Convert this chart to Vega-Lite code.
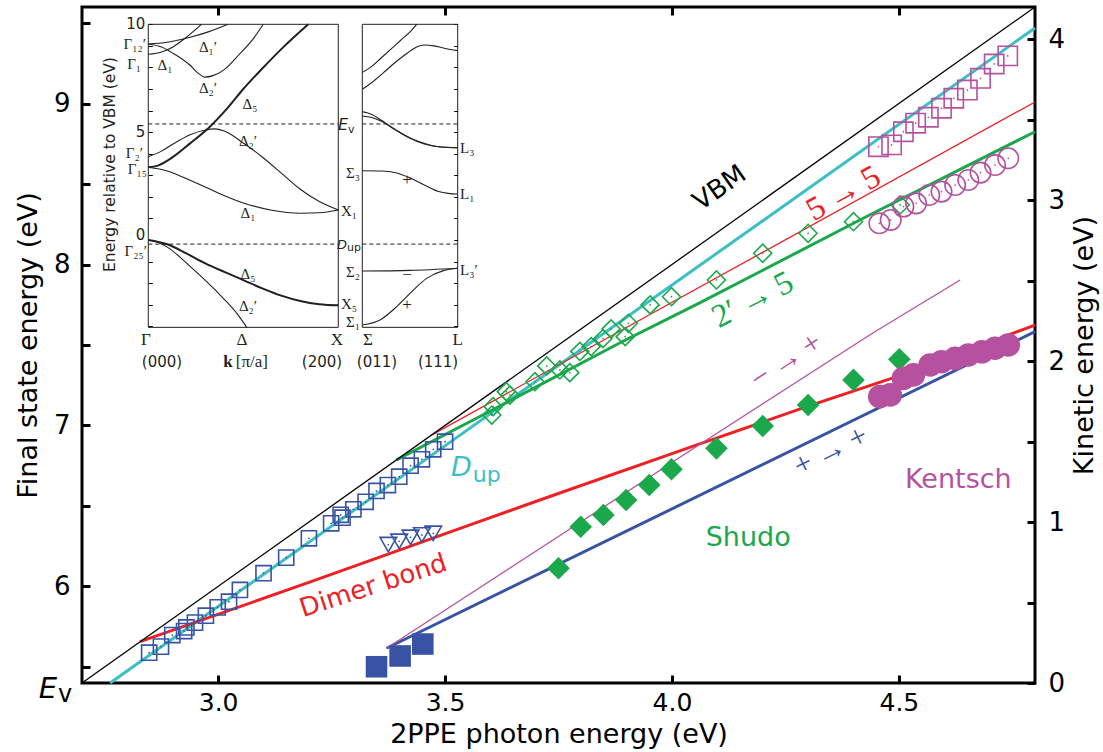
{
"$schema": "https://vega.github.io/schema/vega-lite/v6.json",
"width": 953, "height": 676,
"autosize": {"type": "none"},
"padding": {"left": 82, "top": 7, "right": 68, "bottom": 69},
"background": "white",
"config": {
  "view": {"stroke": "black", "strokeWidth": 3},
  "axis": {"grid": false, "labelColor": "black", "titleColor": "black", "tickColor": "black", "labelFont": "DejaVu Sans", "titleFont": "DejaVu Sans", "titleFontWeight": "normal"}
},
"datasets": {
  "lines": [
    {"s":"Dup","hv":2.762,"E":5.40},{"s":"Dup","hv":4.80,"E":9.47},
    {"s":"r55","hv":3.47,"E":6.94},{"s":"r55","hv":4.80,"E":9.01},
    {"s":"g25","hv":3.393,"E":6.786},{"s":"g25","hv":3.60,"E":7.09},{"s":"g25","hv":3.89,"E":7.52},{"s":"g25","hv":4.06,"E":7.76},{"s":"g25","hv":4.43,"E":8.30},{"s":"g25","hv":4.80,"E":8.825},
    {"s":"dimer","hv":2.828,"E":5.657},{"s":"dimer","hv":3.20,"E":6.025},{"s":"dimer","hv":3.555,"E":6.382},{"s":"dimer","hv":3.709,"E":6.537},{"s":"dimer","hv":4.055,"E":6.879},{"s":"dimer","hv":4.297,"E":7.117},{"s":"dimer","hv":4.517,"E":7.324},{"s":"dimer","hv":4.723,"E":7.542},{"s":"dimer","hv":4.80,"E":7.624},
    {"s":"pp","hv":3.371,"E":5.616},{"s":"pp","hv":4.80,"E":7.583},
    {"s":"mp","hv":3.371,"E":5.616},{"s":"mp","hv":3.71,"E":6.237},{"s":"mp","hv":4.06,"E":6.88},{"s":"mp","hv":4.44,"E":7.57},{"s":"mp","hv":4.635,"E":7.904}
  ],
  "pts": [
    {"s":"sqb","hv":2.848,"E":5.588},{"s":"sqb","hv":2.874,"E":5.626},{"s":"sqb","hv":2.899,"E":5.698},{"s":"sqb","hv":2.925,"E":5.723},{"s":"sqb","hv":2.930,"E":5.745},{"s":"sqb","hv":2.949,"E":5.775},{"s":"sqb","hv":2.973,"E":5.818},{"s":"sqb","hv":2.999,"E":5.870},{"s":"sqb","hv":3.024,"E":5.905},{"s":"sqb","hv":3.048,"E":5.978},{"s":"sqb","hv":3.100,"E":6.082},{"s":"sqb","hv":3.150,"E":6.179},{"s":"sqb","hv":3.200,"E":6.299},{"s":"sqb","hv":3.249,"E":6.392},{"s":"sqb","hv":3.270,"E":6.445},{"s":"sqb","hv":3.274,"E":6.427},{"s":"sqb","hv":3.298,"E":6.479},{"s":"sqb","hv":3.325,"E":6.526},{"s":"sqb","hv":3.349,"E":6.593},{"s":"sqb","hv":3.374,"E":6.630},{"s":"sqb","hv":3.399,"E":6.682},{"s":"sqb","hv":3.424,"E":6.750},{"s":"sqb","hv":3.449,"E":6.790},{"s":"sqb","hv":3.474,"E":6.852},{"s":"sqb","hv":3.500,"E":6.899},
    {"s":"tri","hv":3.375,"E":6.26},{"s":"tri","hv":3.399,"E":6.28},{"s":"tri","hv":3.424,"E":6.305},{"s":"tri","hv":3.449,"E":6.32},{"s":"tri","hv":3.474,"E":6.33},
    {"s":"diao","hv":3.603,"E":7.065},{"s":"diao","hv":3.606,"E":7.117},{"s":"diao","hv":3.635,"E":7.21},{"s":"diao","hv":3.643,"E":7.189},{"s":"diao","hv":3.698,"E":7.272},{"s":"diao","hv":3.724,"E":7.37},{"s":"diao","hv":3.753,"E":7.345},{"s":"diao","hv":3.775,"E":7.328},{"s":"diao","hv":3.797,"E":7.46},{"s":"diao","hv":3.822,"E":7.49},{"s":"diao","hv":3.848,"E":7.54},{"s":"diao","hv":3.866,"E":7.60},{"s":"diao","hv":3.897,"E":7.552},{"s":"diao","hv":3.904,"E":7.635},{"s":"diao","hv":3.952,"E":7.749},{"s":"diao","hv":3.999,"E":7.80},{"s":"diao","hv":4.098,"E":7.904},{"s":"diao","hv":4.200,"E":8.07},{"s":"diao","hv":4.300,"E":8.194},{"s":"diao","hv":4.400,"E":8.266},{"s":"diao","hv":4.503,"E":8.37},
    {"s":"sqp","hv":4.455,"E":8.732},{"s":"sqp","hv":4.484,"E":8.743},{"s":"sqp","hv":4.510,"E":8.825},{"s":"sqp","hv":4.537,"E":8.878},{"s":"sqp","hv":4.565,"E":8.915},{"s":"sqp","hv":4.594,"E":8.971},{"s":"sqp","hv":4.621,"E":9.033},{"s":"sqp","hv":4.651,"E":9.084},{"s":"sqp","hv":4.680,"E":9.157},{"s":"sqp","hv":4.710,"E":9.246},{"s":"sqp","hv":4.740,"E":9.296},
    {"s":"circp","hv":4.457,"E":8.256},{"s":"circp","hv":4.482,"E":8.277},{"s":"circp","hv":4.510,"E":8.360},{"s":"circp","hv":4.538,"E":8.380},{"s":"circp","hv":4.567,"E":8.432},{"s":"circp","hv":4.594,"E":8.453},{"s":"circp","hv":4.624,"E":8.494},{"s":"circp","hv":4.653,"E":8.525},{"s":"circp","hv":4.680,"E":8.571},{"s":"circp","hv":4.712,"E":8.618},{"s":"circp","hv":4.741,"E":8.660},
    {"s":"sqf","hv":3.349,"E":5.501},{"s":"sqf","hv":3.401,"E":5.568},{"s":"sqf","hv":3.451,"E":5.642},
    {"s":"diaf","hv":3.750,"E":6.113},{"s":"diaf","hv":3.799,"E":6.371},{"s":"diaf","hv":3.849,"E":6.444},{"s":"diaf","hv":3.899,"E":6.537},{"s":"diaf","hv":3.950,"E":6.630},{"s":"diaf","hv":3.999,"E":6.728},{"s":"diaf","hv":4.098,"E":6.858},{"s":"diaf","hv":4.200,"E":6.997},{"s":"diaf","hv":4.300,"E":7.127},{"s":"diaf","hv":4.400,"E":7.283},{"s":"diaf","hv":4.501,"E":7.411},
    {"s":"circf","hv":4.458,"E":7.179},{"s":"circf","hv":4.481,"E":7.190},{"s":"circf","hv":4.510,"E":7.293},{"s":"circf","hv":4.532,"E":7.314},{"s":"circf","hv":4.569,"E":7.376},{"s":"circf","hv":4.594,"E":7.396},{"s":"circf","hv":4.624,"E":7.417},{"s":"circf","hv":4.653,"E":7.438},{"s":"circf","hv":4.683,"E":7.458},{"s":"circf","hv":4.712,"E":7.480},{"s":"circf","hv":4.741,"E":7.500}
  ],
  "notes": [
    {"id":"vbm","hv":4.105,"E":8.475,"t":"VBM"},
    {"id":"r55","hv":4.378,"E":8.441,"t":"5\u2009→\u20095"},
    {"id":"g25","hv":4.178,"E":7.78,"t":"2′\u2009→\u20095"},
    {"id":"dimer","hv":3.342,"E":6.003,"t":"Dimer bond"},
    {"id":"mp","hv":4.252,"E":7.40,"t":"−\u2009→\u2009+"},
    {"id":"pp","hv":4.35,"E":6.838,"t":"+\u2009→\u2009+"},
    {"id":"shudo","hv":4.168,"E":6.301,"t":"Shudo"},
    {"id":"kentsch","hv":4.631,"E":6.661,"t":"Kentsch"},
    {"id":"D","hv":3.559,"E":6.686,"t":"D"},
    {"id":"up","hv":3.559,"E":6.686,"t":"up"},
    {"id":"E","hv":2.645,"E":5.307,"t":"E"},
    {"id":"v","hv":2.645,"E":5.307,"t":"v"}
  ],
  "bands": [
    {"p":"L","c":"vb5","k":0,"E":0},{"p":"L","c":"vb5","k":0.1,"E":-0.2},{"p":"L","c":"vb5","k":0.2,"E":-0.62},{"p":"L","c":"vb5","k":0.3,"E":-1.08},{"p":"L","c":"vb5","k":0.4,"E":-1.48},{"p":"L","c":"vb5","k":0.5,"E":-1.86},{"p":"L","c":"vb5","k":0.6,"E":-2.24},{"p":"L","c":"vb5","k":0.7,"E":-2.58},{"p":"L","c":"vb5","k":0.8,"E":-2.83},{"p":"L","c":"vb5","k":0.9,"E":-2.98},{"p":"L","c":"vb5","k":1.0,"E":-3.03},
    {"p":"L","c":"vb2","k":0,"E":0},{"p":"L","c":"vb2","k":0.05,"E":-0.1},{"p":"L","c":"vb2","k":0.1,"E":-0.33},{"p":"L","c":"vb2","k":0.22,"E":-1.22},{"p":"L","c":"vb2","k":0.31,"E":-1.95},{"p":"L","c":"vb2","k":0.4,"E":-2.75},{"p":"L","c":"vb2","k":0.47,"E":-3.45},{"p":"L","c":"vb2","k":0.518,"E":-4.05},
    {"p":"L","c":"cb1","k":0,"E":3.37},{"p":"L","c":"cb1","k":0.1,"E":3.2},{"p":"L","c":"cb1","k":0.22,"E":2.77},{"p":"L","c":"cb1","k":0.35,"E":2.25},{"p":"L","c":"cb1","k":0.5,"E":1.72},{"p":"L","c":"cb1","k":0.65,"E":1.38},{"p":"L","c":"cb1","k":0.8,"E":1.24},{"p":"L","c":"cb1","k":0.9,"E":1.26},{"p":"L","c":"cb1","k":1.0,"E":1.39},
    {"p":"L","c":"cb5","k":0,"E":3.37},{"p":"L","c":"cb5","k":0.05,"E":3.45},{"p":"L","c":"cb5","k":0.13,"E":3.85},{"p":"L","c":"cb5","k":0.22,"E":4.48},{"p":"L","c":"cb5","k":0.32,"E":5.22},{"p":"L","c":"cb5","k":0.42,"E":6.15},{"p":"L","c":"cb5","k":0.5,"E":7.0},{"p":"L","c":"cb5","k":0.6,"E":7.95},{"p":"L","c":"cb5","k":0.7,"E":8.85},{"p":"L","c":"cb5","k":0.842,"E":10.0},
    {"p":"L","c":"cb2","k":0,"E":3.86},{"p":"L","c":"cb2","k":0.07,"E":4.12},{"p":"L","c":"cb2","k":0.13,"E":4.45},{"p":"L","c":"cb2","k":0.22,"E":4.88},{"p":"L","c":"cb2","k":0.3,"E":5.1},{"p":"L","c":"cb2","k":0.35,"E":5.15},{"p":"L","c":"cb2","k":0.4,"E":5.05},{"p":"L","c":"cb2","k":0.5,"E":4.5},{"p":"L","c":"cb2","k":0.6,"E":3.85},{"p":"L","c":"cb2","k":0.7,"E":3.1},{"p":"L","c":"cb2","k":0.8,"E":2.35},{"p":"L","c":"cb2","k":0.9,"E":1.78},{"p":"L","c":"cb2","k":1.0,"E":1.39},
    {"p":"L","c":"c12a","k":0,"E":9.09},{"p":"L","c":"c12a","k":0.1,"E":9.17},{"p":"L","c":"c12a","k":0.22,"E":9.4},{"p":"L","c":"c12a","k":0.32,"E":9.66},{"p":"L","c":"c12a","k":0.42,"E":10.0},
    {"p":"L","c":"c12b","k":0,"E":9.09},{"p":"L","c":"c12b","k":0.07,"E":8.95},{"p":"L","c":"c12b","k":0.13,"E":8.66},{"p":"L","c":"c12b","k":0.22,"E":8.1},{"p":"L","c":"c12b","k":0.26,"E":7.75},{"p":"L","c":"c12b","k":0.3,"E":7.55},{"p":"L","c":"c12b","k":0.34,"E":7.62},{"p":"L","c":"c12b","k":0.4,"E":7.9},{"p":"L","c":"c12b","k":0.48,"E":8.62},{"p":"L","c":"c12b","k":0.55,"E":9.3},{"p":"L","c":"c12b","k":0.605,"E":10.0},
    {"p":"L","c":"c1","k":0,"E":8.61},{"p":"L","c":"c1","k":0.07,"E":8.72},{"p":"L","c":"c1","k":0.13,"E":8.95},{"p":"L","c":"c1","k":0.2,"E":9.4},{"p":"L","c":"c1","k":0.28,"E":10.0},
    {"p":"R","c":"r1","k":0,"E":7.77},{"p":"R","c":"r1","k":0.1,"E":8.05},{"p":"R","c":"r1","k":0.2,"E":8.45},{"p":"R","c":"r1","k":0.3,"E":8.85},{"p":"R","c":"r1","k":0.4,"E":9.25},{"p":"R","c":"r1","k":0.5,"E":9.65},{"p":"R","c":"r1","k":0.57,"E":10.0},
    {"p":"R","c":"r2","k":0,"E":6.99},{"p":"R","c":"r2","k":0.1,"E":7.3},{"p":"R","c":"r2","k":0.22,"E":7.75},{"p":"R","c":"r2","k":0.35,"E":8.25},{"p":"R","c":"r2","k":0.47,"E":8.66},{"p":"R","c":"r2","k":0.57,"E":8.95},{"p":"R","c":"r2","k":0.65,"E":9.04},{"p":"R","c":"r2","k":0.75,"E":9.0},{"p":"R","c":"r2","k":0.87,"E":8.88},{"p":"R","c":"r2","k":1.0,"E":8.78},
    {"p":"R","c":"r3","k":0,"E":5.95},{"p":"R","c":"r3","k":0.1,"E":5.82},{"p":"R","c":"r3","k":0.2,"E":5.55},{"p":"R","c":"r3","k":0.3,"E":5.25},{"p":"R","c":"r3","k":0.45,"E":4.85},{"p":"R","c":"r3","k":0.6,"E":4.55},{"p":"R","c":"r3","k":0.75,"E":4.36},{"p":"R","c":"r3","k":0.9,"E":4.29},{"p":"R","c":"r3","k":1.0,"E":4.28},
    {"p":"R","c":"r4","k":0,"E":5.75},{"p":"R","c":"r4","k":0.1,"E":5.68},{"p":"R","c":"r4","k":0.2,"E":5.5},{"p":"R","c":"r4","k":0.35,"E":5.1},{"p":"R","c":"r4","k":0.5,"E":4.72},{"p":"R","c":"r4","k":0.65,"E":4.45},{"p":"R","c":"r4","k":0.8,"E":4.32},{"p":"R","c":"r4","k":1.0,"E":4.28},
    {"p":"R","c":"r5","k":0,"E":3.21},{"p":"R","c":"r5","k":0.2,"E":3.2},{"p":"R","c":"r5","k":0.35,"E":3.12},{"p":"R","c":"r5","k":0.5,"E":2.88},{"p":"R","c":"r5","k":0.65,"E":2.55},{"p":"R","c":"r5","k":0.8,"E":2.25},{"p":"R","c":"r5","k":0.9,"E":2.16},{"p":"R","c":"r5","k":1.0,"E":2.13},
    {"p":"R","c":"r6","k":0,"E":-1.44},{"p":"R","c":"r6","k":0.5,"E":-1.41},{"p":"R","c":"r6","k":1.0,"E":-1.31},
    {"p":"R","c":"r7","k":0,"E":-3.94},{"p":"R","c":"r7","k":0.185,"E":-3.71},{"p":"R","c":"r7","k":0.36,"E":-3.09},{"p":"R","c":"r7","k":0.5,"E":-2.47},{"p":"R","c":"r7","k":0.675,"E":-1.78},{"p":"R","c":"r7","k":0.85,"E":-1.42},{"p":"R","c":"r7","k":1.0,"E":-1.31}
  ],
  "blabels": [
    {"g":"delta","k":0.314,"E":8.95,"t":"Δ₁′"},{"g":"delta","k":0.088,"E":8.11,"t":"Δ₁"},{"g":"delta","k":0.314,"E":7.05,"t":"Δ₂′"},{"g":"delta","k":0.535,"E":6.31,"t":"Δ₅"},
    {"g":"delta","k":0.525,"E":4.59,"t":"Δ₂′"},{"g":"delta","k":0.525,"E":1.25,"t":"Δ₁"},{"g":"delta","k":0.525,"E":-1.58,"t":"Δ₅"},{"g":"delta","k":0.525,"E":-3.06,"t":"Δ₂′"},
    {"g":"gamma","k":-0.012,"E":9.09,"t":"Γ₁₂′"},{"g":"gamma","k":-0.038,"E":8.16,"t":"Γ₁"},{"g":"gamma","k":-0.028,"E":4.03,"t":"Γ₂′"},{"g":"gamma","k":-0.007,"E":3.29,"t":"Γ₁₅"},{"g":"gamma","k":-0.007,"E":-0.5,"t":"Γ₂₅′"},
    {"g":"ticklab","k":-0.016,"E":10,"t":"10"},{"g":"ticklab","k":-0.016,"E":5,"t":"5"},{"g":"ticklab","k":-0.016,"E":0.25,"t":"0"},
    {"g":"xlab","k":1.014,"E":1.34,"t":"X₁"},{"g":"xlab","k":1.014,"E":-2.97,"t":"X₅"},
    {"g":"bottom","k":-0.012,"E":-4.64,"t":"Γ"},{"g":"bottom","k":0.493,"E":-4.64,"t":"Δ"},{"g":"bottom","k":0.993,"E":-4.64,"t":"X"},{"g":"bottom","k":0.545,"E":-5.66,"t":"[π/a]"},
    {"g":"kbold","k":0.42,"E":-5.66,"t":"k"},
    {"g":"miller","k":0.072,"E":-5.66,"t":"(000)"},{"g":"miller","k":0.914,"E":-5.66,"t":"(200)"},
    {"g":"Ev","k":1.051,"E":5.10,"t":"E"},{"g":"Evsub","k":1.051,"E":5.10,"t":"v"},
    {"g":"Dup","k":1.046,"E":-0.42,"t":"D"},{"g":"Dupsub","k":1.046,"E":-0.42,"t":"up"},
    {"g":"title","k":-0.2016,"E":3.5,"t":"Energy relative to VBM (eV)"}
  ],
  "rlabels": [
    {"g":"sigma","k":-0.024,"E":3.11,"t":"Σ₃"},{"g":"sigma","k":-0.024,"E":-1.48,"t":"Σ₂"},{"g":"sigma","k":-0.024,"E":-3.8,"t":"Σ₁"},
    {"g":"llab","k":1.024,"E":4.27,"t":"L₃"},{"g":"llab","k":1.024,"E":2.13,"t":"L₁"},{"g":"llab","k":1.024,"E":-1.39,"t":"L₃′"},
    {"g":"sign","k":0.469,"E":2.78,"t":"+"},{"g":"sign","k":0.469,"E":-1.62,"t":"−"},{"g":"sign","k":0.469,"E":-3.01,"t":"+"},{"g":"sign","k":0.06,"E":-4.64,"t":"Σ"},{"g":"sign","k":1.0,"E":-4.64,"t":"L"},
    {"g":"miller","k":0.154,"E":-5.66,"t":"(011)"},{"g":"miller","k":0.794,"E":-5.66,"t":"(111)"}
  ]
},
"layer": [
  {
    "data": {"name": "lines"},
    "transform": [{"filter": {"field": "s", "oneOf": ["Dup", "g25", "dimer", "pp"]}}],
    "mark": {"type": "line", "strokeWidth": 3},
    "encoding": {
      "x": {"field": "hv", "type": "quantitative", "scale": {"domain": [2.7, 4.8], "nice": false, "zero": false},
            "axis": {"orient": "bottom", "values": [3, 3.5, 4, 4.5], "format": ".1f", "tickSize": -8, "tickWidth": 3, "domain": false, "labelFontSize": 25, "labelPadding": 15, "title": "2PPE photon energy (eV)", "titleFontSize": 27, "titlePadding": 6}},
      "y": {"field": "E", "type": "quantitative", "scale": {"domain": [5.4, 9.6], "nice": false, "zero": false},
            "axis": {"orient": "left", "values": [5.5, 6, 6.5, 7, 7.5, 8, 8.5, 9, 9.5], "labelExpr": "datum.value % 1 == 0 ? format(datum.value, 'd') : ''", "tickSize": -8, "tickWidth": 3, "domain": false, "labelFontSize": 26, "labelPadding": 20, "title": "Final state energy (eV)", "titleFontSize": 27, "titleBaseline": "alphabetic", "titlePadding": 17}},
      "color": {"field": "s", "type": "nominal", "legend": null, "scale": {"domain": ["Dup","r55","g25","dimer","pp","mp","sqb","tri","diao","sqp","circp","sqf","diaf","circf"], "range": ["#3cbfc4","#ed2024","#1aa84b","#ed2024","#3953a4","#b5519f","#3953a4","#3953a4","#1aa84b","#b5519f","#b5519f","#3953a4","#1aa84b","#b5519f"]}}
    }
  },
  {
    "data": {"name": "lines"},
    "transform": [{"filter": {"field": "s", "oneOf": ["r55", "mp"]}}],
    "mark": {"type": "line", "strokeWidth": 1.3},
    "encoding": {
      "x": {"field": "hv", "type": "quantitative", "scale": {"domain": [2.7, 4.8], "nice": false, "zero": false}, "axis": null},
      "y": {"field": "E", "type": "quantitative", "scale": {"domain": [5.4, 9.6], "nice": false, "zero": false}, "axis": null},
      "color": {"field": "s", "type": "nominal", "legend": null}
    }
  },
  {
    "data": {"values": [{"hv": 2.7, "ke": 0}, {"hv": 4.8, "ke": 4.2}]},
    "mark": {"type": "line", "color": "black", "strokeWidth": 1.3},
    "encoding": {
      "x": {"field": "hv", "type": "quantitative", "scale": {"domain": [2.7, 4.8], "nice": false, "zero": false},
            "axis": {"orient": "top", "values": [3, 3.5, 4, 4.5], "labels": false, "tickSize": -8, "tickWidth": 3, "domain": false, "title": null}},
      "y": {"field": "ke", "type": "quantitative", "scale": {"domain": [0, 4.2], "nice": false, "zero": false},
            "axis": {"orient": "right", "values": [0, 0.5, 1, 1.5, 2, 2.5, 3, 3.5, 4], "labelExpr": "datum.value % 1 == 0 ? format(datum.value, 'd') : ''", "tickSize": -8, "tickWidth": 3, "domain": false, "labelFontSize": 26, "labelPadding": 21, "title": "Kinetic energy (eV)", "titleFontSize": 27, "titleAngle": 270, "titleBaseline": "top", "titlePadding": 7}}
    }
  },
  {
    "data": {"name": "pts"},
    "transform": [{"filter": {"field": "s", "oneOf": ["sqb", "tri", "diao", "sqp", "circp"]}}],
    "mark": {"type": "point", "filled": false, "strokeWidth": 1.6, "opacity": 1},
    "encoding": {
      "x": {"field": "hv", "type": "quantitative", "scale": {"domain": [2.7, 4.8], "nice": false, "zero": false}, "axis": null},
      "y": {"field": "E", "type": "quantitative", "scale": {"domain": [5.4, 9.6], "nice": false, "zero": false}, "axis": null},
      "color": {"field": "s", "type": "nominal", "legend": null},
      "shape": {"field": "s", "type": "nominal", "legend": null, "scale": {"domain": ["sqb","tri","diao","sqp","circp","sqf","diaf","circf"], "range": ["square","triangle-down","diamond","square","circle","square","diamond","circle"]}},
      "size": {"field": "s", "type": "ordinal", "legend": null, "scale": {"domain": ["sqb","tri","diao","sqp","circp","sqf","diaf","circf"], "range": [230,560,440,240,350,256,380,340]}}
    }
  },
  {
    "data": {"name": "pts"},
    "transform": [{"filter": {"field": "s", "oneOf": ["sqb", "tri", "diao", "sqp", "circp"]}}],
    "mark": {"type": "circle", "size": 3, "opacity": 1},
    "encoding": {
      "x": {"field": "hv", "type": "quantitative", "scale": {"domain": [2.7, 4.8], "nice": false, "zero": false}, "axis": null},
      "y": {"field": "E", "type": "quantitative", "scale": {"domain": [5.4, 9.6], "nice": false, "zero": false}, "axis": null},
      "color": {"field": "s", "type": "nominal", "legend": null}
    }
  },
  {
    "data": {"name": "pts"},
    "transform": [{"filter": {"field": "s", "oneOf": ["sqf", "diaf", "circf"]}}],
    "mark": {"type": "point", "filled": true, "opacity": 1},
    "encoding": {
      "x": {"field": "hv", "type": "quantitative", "scale": {"domain": [2.7, 4.8], "nice": false, "zero": false}, "axis": null},
      "y": {"field": "E", "type": "quantitative", "scale": {"domain": [5.4, 9.6], "nice": false, "zero": false}, "axis": null},
      "color": {"field": "s", "type": "nominal", "legend": null},
      "shape": {"field": "s", "type": "nominal", "legend": null},
      "size": {"field": "s", "type": "ordinal", "legend": null}
    }
  },
  {
    "data": {"name": "notes"}, "transform": [{"filter": "datum.id == 'vbm'"}],
    "mark": {"type": "text", "font": "DejaVu Sans", "fontSize": 26, "angle": -35, "align": "center", "baseline": "middle", "color": "black"},
    "encoding": {"x": {"field": "hv", "type": "quantitative", "scale": {"domain": [2.7, 4.8], "nice": false, "zero": false}, "axis": null}, "y": {"field": "E", "type": "quantitative", "scale": {"domain": [5.4, 9.6], "nice": false, "zero": false}, "axis": null}, "text": {"field": "t"}}
  },
  {
    "data": {"name": "notes"}, "transform": [{"filter": "datum.id == 'r55'"}],
    "mark": {"type": "text", "font": "Liberation Serif, DejaVu Serif", "fontSize": 33, "angle": -29, "align": "center", "baseline": "middle", "color": "#ed2024"},
    "encoding": {"x": {"field": "hv", "type": "quantitative", "scale": {"domain": [2.7, 4.8], "nice": false, "zero": false}, "axis": null}, "y": {"field": "E", "type": "quantitative", "scale": {"domain": [5.4, 9.6], "nice": false, "zero": false}, "axis": null}, "text": {"field": "t"}}
  },
  {
    "data": {"name": "notes"}, "transform": [{"filter": "datum.id == 'g25'"}],
    "mark": {"type": "text", "font": "Liberation Serif, DejaVu Serif", "fontSize": 33, "angle": -27, "align": "center", "baseline": "middle", "color": "#1aa84b"},
    "encoding": {"x": {"field": "hv", "type": "quantitative", "scale": {"domain": [2.7, 4.8], "nice": false, "zero": false}, "axis": null}, "y": {"field": "E", "type": "quantitative", "scale": {"domain": [5.4, 9.6], "nice": false, "zero": false}, "axis": null}, "text": {"field": "t"}}
  },
  {
    "data": {"name": "notes"}, "transform": [{"filter": "datum.id == 'dimer'"}],
    "mark": {"type": "text", "font": "DejaVu Sans", "fontSize": 26, "angle": -18, "align": "center", "baseline": "middle", "color": "#ed2024"},
    "encoding": {"x": {"field": "hv", "type": "quantitative", "scale": {"domain": [2.7, 4.8], "nice": false, "zero": false}, "axis": null}, "y": {"field": "E", "type": "quantitative", "scale": {"domain": [5.4, 9.6], "nice": false, "zero": false}, "axis": null}, "text": {"field": "t"}}
  },
  {
    "data": {"name": "notes"}, "transform": [{"filter": "datum.id == 'mp'"}],
    "mark": {"type": "text", "font": "Liberation Serif, DejaVu Serif", "fontSize": 31, "angle": -33, "align": "center", "baseline": "middle", "color": "#b5519f"},
    "encoding": {"x": {"field": "hv", "type": "quantitative", "scale": {"domain": [2.7, 4.8], "nice": false, "zero": false}, "axis": null}, "y": {"field": "E", "type": "quantitative", "scale": {"domain": [5.4, 9.6], "nice": false, "zero": false}, "axis": null}, "text": {"field": "t"}}
  },
  {
    "data": {"name": "notes"}, "transform": [{"filter": "datum.id == 'pp'"}],
    "mark": {"type": "text", "font": "Liberation Serif, DejaVu Serif", "fontSize": 31, "angle": -26, "align": "center", "baseline": "middle", "color": "#3953a4"},
    "encoding": {"x": {"field": "hv", "type": "quantitative", "scale": {"domain": [2.7, 4.8], "nice": false, "zero": false}, "axis": null}, "y": {"field": "E", "type": "quantitative", "scale": {"domain": [5.4, 9.6], "nice": false, "zero": false}, "axis": null}, "text": {"field": "t"}}
  },
  {
    "data": {"name": "notes"}, "transform": [{"filter": "datum.id == 'shudo'"}],
    "mark": {"type": "text", "font": "DejaVu Sans", "fontSize": 27, "align": "center", "baseline": "middle", "color": "#1aa84b"},
    "encoding": {"x": {"field": "hv", "type": "quantitative", "scale": {"domain": [2.7, 4.8], "nice": false, "zero": false}, "axis": null}, "y": {"field": "E", "type": "quantitative", "scale": {"domain": [5.4, 9.6], "nice": false, "zero": false}, "axis": null}, "text": {"field": "t"}}
  },
  {
    "data": {"name": "notes"}, "transform": [{"filter": "datum.id == 'kentsch'"}],
    "mark": {"type": "text", "font": "DejaVu Sans", "fontSize": 27, "align": "center", "baseline": "middle", "color": "#b5519f"},
    "encoding": {"x": {"field": "hv", "type": "quantitative", "scale": {"domain": [2.7, 4.8], "nice": false, "zero": false}, "axis": null}, "y": {"field": "E", "type": "quantitative", "scale": {"domain": [5.4, 9.6], "nice": false, "zero": false}, "axis": null}, "text": {"field": "t"}}
  },
  {
    "data": {"name": "notes"}, "transform": [{"filter": "datum.id == 'D'"}],
    "mark": {"type": "text", "font": "DejaVu Sans", "fontSize": 27, "fontStyle": "italic", "align": "right", "baseline": "alphabetic", "color": "#3cbfc4"},
    "encoding": {"x": {"field": "hv", "type": "quantitative", "scale": {"domain": [2.7, 4.8], "nice": false, "zero": false}, "axis": null}, "y": {"field": "E", "type": "quantitative", "scale": {"domain": [5.4, 9.6], "nice": false, "zero": false}, "axis": null}, "text": {"field": "t"}}
  },
  {
    "data": {"name": "notes"}, "transform": [{"filter": "datum.id == 'up'"}],
    "mark": {"type": "text", "font": "DejaVu Sans", "fontSize": 22, "align": "left", "baseline": "alphabetic", "dx": 1, "dy": 6, "color": "#3cbfc4"},
    "encoding": {"x": {"field": "hv", "type": "quantitative", "scale": {"domain": [2.7, 4.8], "nice": false, "zero": false}, "axis": null}, "y": {"field": "E", "type": "quantitative", "scale": {"domain": [5.4, 9.6], "nice": false, "zero": false}, "axis": null}, "text": {"field": "t"}}
  },
  {
    "data": {"name": "notes"}, "transform": [{"filter": "datum.id == 'E'"}],
    "mark": {"type": "text", "font": "DejaVu Sans", "fontSize": 29, "fontStyle": "italic", "align": "right", "baseline": "alphabetic", "color": "black"},
    "encoding": {"x": {"field": "hv", "type": "quantitative", "scale": {"domain": [2.7, 4.8], "nice": false, "zero": false}, "axis": null}, "y": {"field": "E", "type": "quantitative", "scale": {"domain": [5.4, 9.6], "nice": false, "zero": false}, "axis": null}, "text": {"field": "t"}}
  },
  {
    "data": {"name": "notes"}, "transform": [{"filter": "datum.id == 'v'"}],
    "mark": {"type": "text", "font": "DejaVu Sans", "fontSize": 24, "align": "left", "baseline": "alphabetic", "dx": 1, "dy": 4, "color": "black"},
    "encoding": {"x": {"field": "hv", "type": "quantitative", "scale": {"domain": [2.7, 4.8], "nice": false, "zero": false}, "axis": null}, "y": {"field": "E", "type": "quantitative", "scale": {"domain": [5.4, 9.6], "nice": false, "zero": false}, "axis": null}, "text": {"field": "t"}}
  },
  {
    "data": {"name": "bands"},
    "transform": [{"filter": "datum.p == 'L' && datum.c != 'vb5' && datum.c != 'cb5'"}],
    "mark": {"type": "line", "color": "#231f20", "strokeWidth": 1.1, "interpolate": "monotone"},
    "encoding": {
      "x": {"field": "k", "type": "quantitative", "scale": {"domain": [-0.3489, 4.6668], "nice": false, "zero": false}, "axis": null},
      "y": {"field": "E", "type": "quantitative", "scale": {"domain": [-20.538, 10.802], "nice": false, "zero": false},
            "axis": {"orient": "left", "offset": -66.3, "values": [-4,-3,-2,-1,0,1,2,3,4,5,6,7,8,9,10], "labels": false, "tickSize": -4, "tickWidth": 1, "domain": false, "title": null}},
      "detail": {"field": "c"}
    }
  },
  {
    "data": {"name": "bands"},
    "transform": [{"filter": "datum.p == 'L' && (datum.c == 'vb5' || datum.c == 'cb5')"}],
    "mark": {"type": "line", "color": "#231f20", "strokeWidth": 2, "interpolate": "monotone"},
    "encoding": {
      "x": {"field": "k", "type": "quantitative", "scale": {"domain": [-0.3489, 4.6668], "nice": false, "zero": false}, "axis": null},
      "y": {"field": "E", "type": "quantitative", "scale": {"domain": [-20.538, 10.802], "nice": false, "zero": false}, "axis": null},
      "detail": {"field": "c"}
    }
  },
  {
    "data": {"values": [{}]},
    "mark": {"type": "rect", "filled": false, "stroke": "#231f20", "strokeWidth": 1},
    "encoding": {
      "x": {"datum": 0, "type": "quantitative", "scale": {"domain": [-0.3489, 4.6668], "nice": false, "zero": false}, "axis": null}, "x2": {"datum": 1},
      "y": {"datum": -4.05, "type": "quantitative", "scale": {"domain": [-20.538, 10.802], "nice": false, "zero": false}, "axis": null}, "y2": {"datum": 10}
    }
  },
  {
    "data": {"values": [{"E": 5.38}, {"E": -0.19}]},
    "mark": {"type": "rule", "strokeDash": [4, 3], "strokeWidth": 1, "color": "#231f20"},
    "encoding": {
      "x": {"datum": 0, "type": "quantitative", "scale": {"domain": [-0.3489, 4.6668], "nice": false, "zero": false}, "axis": null}, "x2": {"datum": 1},
      "y": {"field": "E", "type": "quantitative", "scale": {"domain": [-20.538, 10.802], "nice": false, "zero": false}, "axis": null}
    }
  },
  {
    "data": {"name": "blabels"}, "transform": [{"filter": "datum.g == 'delta'"}],
    "mark": {"type": "text", "font": "Liberation Serif, DejaVu Serif", "fontSize": 15, "align": "center", "baseline": "middle", "color": "#231f20"},
    "encoding": {"x": {"field": "k", "type": "quantitative", "scale": {"domain": [-0.3489, 4.6668], "nice": false, "zero": false}, "axis": null}, "y": {"field": "E", "type": "quantitative", "scale": {"domain": [-20.538, 10.802], "nice": false, "zero": false}, "axis": null}, "text": {"field": "t"}}
  },
  {
    "data": {"name": "blabels"}, "transform": [{"filter": "datum.g == 'gamma'"}],
    "mark": {"type": "text", "font": "Liberation Serif, DejaVu Serif", "fontSize": 15, "align": "right", "baseline": "middle", "color": "#231f20"},
    "encoding": {"x": {"field": "k", "type": "quantitative", "scale": {"domain": [-0.3489, 4.6668], "nice": false, "zero": false}, "axis": null}, "y": {"field": "E", "type": "quantitative", "scale": {"domain": [-20.538, 10.802], "nice": false, "zero": false}, "axis": null}, "text": {"field": "t"}}
  },
  {
    "data": {"name": "blabels"}, "transform": [{"filter": "datum.g == 'ticklab'"}],
    "mark": {"type": "text", "font": "DejaVu Sans", "fontSize": 15, "align": "right", "baseline": "middle", "color": "#231f20"},
    "encoding": {"x": {"field": "k", "type": "quantitative", "scale": {"domain": [-0.3489, 4.6668], "nice": false, "zero": false}, "axis": null}, "y": {"field": "E", "type": "quantitative", "scale": {"domain": [-20.538, 10.802], "nice": false, "zero": false}, "axis": null}, "text": {"field": "t"}}
  },
  {
    "data": {"name": "blabels"}, "transform": [{"filter": "datum.g == 'xlab'"}],
    "mark": {"type": "text", "font": "Liberation Serif, DejaVu Serif", "fontSize": 15, "align": "left", "baseline": "middle", "color": "#231f20"},
    "encoding": {"x": {"field": "k", "type": "quantitative", "scale": {"domain": [-0.3489, 4.6668], "nice": false, "zero": false}, "axis": null}, "y": {"field": "E", "type": "quantitative", "scale": {"domain": [-20.538, 10.802], "nice": false, "zero": false}, "axis": null}, "text": {"field": "t"}}
  },
  {
    "data": {"name": "blabels"}, "transform": [{"filter": "datum.g == 'bottom'"}],
    "mark": {"type": "text", "font": "Liberation Serif, DejaVu Serif", "fontSize": 17, "align": "center", "baseline": "middle", "color": "#231f20"},
    "encoding": {"x": {"field": "k", "type": "quantitative", "scale": {"domain": [-0.3489, 4.6668], "nice": false, "zero": false}, "axis": null}, "y": {"field": "E", "type": "quantitative", "scale": {"domain": [-20.538, 10.802], "nice": false, "zero": false}, "axis": null}, "text": {"field": "t"}}
  },
  {
    "data": {"name": "blabels"}, "transform": [{"filter": "datum.g == 'kbold'"}],
    "mark": {"type": "text", "font": "Liberation Serif, DejaVu Serif", "fontSize": 17, "fontWeight": "bold", "align": "center", "baseline": "middle", "color": "#231f20"},
    "encoding": {"x": {"field": "k", "type": "quantitative", "scale": {"domain": [-0.3489, 4.6668], "nice": false, "zero": false}, "axis": null}, "y": {"field": "E", "type": "quantitative", "scale": {"domain": [-20.538, 10.802], "nice": false, "zero": false}, "axis": null}, "text": {"field": "t"}}
  },
  {
    "data": {"name": "blabels"}, "transform": [{"filter": "datum.g == 'miller'"}],
    "mark": {"type": "text", "font": "DejaVu Sans", "fontSize": 15, "align": "center", "baseline": "middle", "color": "#231f20"},
    "encoding": {"x": {"field": "k", "type": "quantitative", "scale": {"domain": [-0.3489, 4.6668], "nice": false, "zero": false}, "axis": null}, "y": {"field": "E", "type": "quantitative", "scale": {"domain": [-20.538, 10.802], "nice": false, "zero": false}, "axis": null}, "text": {"field": "t"}}
  },
  {
    "data": {"name": "blabels"}, "transform": [{"filter": "datum.g == 'Ev'"}],
    "mark": {"type": "text", "font": "DejaVu Sans", "fontSize": 16, "fontStyle": "italic", "align": "right", "baseline": "alphabetic", "color": "#231f20"},
    "encoding": {"x": {"field": "k", "type": "quantitative", "scale": {"domain": [-0.3489, 4.6668], "nice": false, "zero": false}, "axis": null}, "y": {"field": "E", "type": "quantitative", "scale": {"domain": [-20.538, 10.802], "nice": false, "zero": false}, "axis": null}, "text": {"field": "t"}}
  },
  {
    "data": {"name": "blabels"}, "transform": [{"filter": "datum.g == 'Evsub'"}],
    "mark": {"type": "text", "font": "DejaVu Sans", "fontSize": 11, "align": "left", "baseline": "alphabetic", "dy": 3, "color": "#231f20"},
    "encoding": {"x": {"field": "k", "type": "quantitative", "scale": {"domain": [-0.3489, 4.6668], "nice": false, "zero": false}, "axis": null}, "y": {"field": "E", "type": "quantitative", "scale": {"domain": [-20.538, 10.802], "nice": false, "zero": false}, "axis": null}, "text": {"field": "t"}}
  },
  {
    "data": {"name": "blabels"}, "transform": [{"filter": "datum.g == 'Dup'"}],
    "mark": {"type": "text", "font": "DejaVu Sans", "fontSize": 13, "fontStyle": "italic", "align": "right", "baseline": "alphabetic", "color": "#231f20"},
    "encoding": {"x": {"field": "k", "type": "quantitative", "scale": {"domain": [-0.3489, 4.6668], "nice": false, "zero": false}, "axis": null}, "y": {"field": "E", "type": "quantitative", "scale": {"domain": [-20.538, 10.802], "nice": false, "zero": false}, "axis": null}, "text": {"field": "t"}}
  },
  {
    "data": {"name": "blabels"}, "transform": [{"filter": "datum.g == 'Dupsub'"}],
    "mark": {"type": "text", "font": "DejaVu Sans", "fontSize": 11, "align": "left", "baseline": "alphabetic", "dy": 2, "color": "#231f20"},
    "encoding": {"x": {"field": "k", "type": "quantitative", "scale": {"domain": [-0.3489, 4.6668], "nice": false, "zero": false}, "axis": null}, "y": {"field": "E", "type": "quantitative", "scale": {"domain": [-20.538, 10.802], "nice": false, "zero": false}, "axis": null}, "text": {"field": "t"}}
  },
  {
    "data": {"name": "blabels"}, "transform": [{"filter": "datum.g == 'title'"}],
    "mark": {"type": "text", "font": "DejaVu Sans", "fontSize": 15.5, "angle": 270, "align": "center", "baseline": "middle", "color": "#231f20"},
    "encoding": {"x": {"field": "k", "type": "quantitative", "scale": {"domain": [-0.3489, 4.6668], "nice": false, "zero": false}, "axis": null}, "y": {"field": "E", "type": "quantitative", "scale": {"domain": [-20.538, 10.802], "nice": false, "zero": false}, "axis": null}, "text": {"field": "t"}}
  },
  {
    "data": {"name": "bands"},
    "transform": [{"filter": "datum.p == 'R'"}],
    "mark": {"type": "line", "color": "#231f20", "strokeWidth": 1.1, "interpolate": "monotone"},
    "encoding": {
      "x": {"field": "k", "type": "quantitative", "scale": {"domain": [-2.9382, 7.0514], "nice": false, "zero": false}, "axis": null},
      "y": {"field": "E", "type": "quantitative", "scale": {"domain": [-20.538, 10.802], "nice": false, "zero": false},
            "axis": {"orient": "right", "offset": -577.3, "values": [-4,-3,-2,-1,0,1,2,3,4,5,6,7,8,9,10], "labels": false, "tickSize": -4, "tickWidth": 1, "domain": false, "title": null}},
      "detail": {"field": "c"}
    }
  },
  {
    "data": {"values": [{}]},
    "mark": {"type": "rect", "filled": false, "stroke": "#231f20", "strokeWidth": 1},
    "encoding": {
      "x": {"datum": 0, "type": "quantitative", "scale": {"domain": [-2.9382, 7.0514], "nice": false, "zero": false}, "axis": null}, "x2": {"datum": 1},
      "y": {"datum": -4.05, "type": "quantitative", "scale": {"domain": [-20.538, 10.802], "nice": false, "zero": false}, "axis": null}, "y2": {"datum": 10}
    }
  },
  {
    "data": {"values": [{"E": 5.38}, {"E": -0.19}]},
    "mark": {"type": "rule", "strokeDash": [4, 3], "strokeWidth": 1, "color": "#231f20"},
    "encoding": {
      "x": {"datum": 0, "type": "quantitative", "scale": {"domain": [-2.9382, 7.0514], "nice": false, "zero": false}, "axis": null}, "x2": {"datum": 1},
      "y": {"field": "E", "type": "quantitative", "scale": {"domain": [-20.538, 10.802], "nice": false, "zero": false}, "axis": null}
    }
  },
  {
    "data": {"name": "rlabels"}, "transform": [{"filter": "datum.g == 'sigma'"}],
    "mark": {"type": "text", "font": "Liberation Serif, DejaVu Serif", "fontSize": 15, "align": "right", "baseline": "middle", "color": "#231f20"},
    "encoding": {"x": {"field": "k", "type": "quantitative", "scale": {"domain": [-2.9382, 7.0514], "nice": false, "zero": false}, "axis": null}, "y": {"field": "E", "type": "quantitative", "scale": {"domain": [-20.538, 10.802], "nice": false, "zero": false}, "axis": null}, "text": {"field": "t"}}
  },
  {
    "data": {"name": "rlabels"}, "transform": [{"filter": "datum.g == 'llab'"}],
    "mark": {"type": "text", "font": "Liberation Serif, DejaVu Serif", "fontSize": 15, "align": "left", "baseline": "middle", "color": "#231f20"},
    "encoding": {"x": {"field": "k", "type": "quantitative", "scale": {"domain": [-2.9382, 7.0514], "nice": false, "zero": false}, "axis": null}, "y": {"field": "E", "type": "quantitative", "scale": {"domain": [-20.538, 10.802], "nice": false, "zero": false}, "axis": null}, "text": {"field": "t"}}
  },
  {
    "data": {"name": "rlabels"}, "transform": [{"filter": "datum.g == 'sign'"}],
    "mark": {"type": "text", "font": "Liberation Serif, DejaVu Serif", "fontSize": 17, "align": "center", "baseline": "middle", "color": "#231f20"},
    "encoding": {"x": {"field": "k", "type": "quantitative", "scale": {"domain": [-2.9382, 7.0514], "nice": false, "zero": false}, "axis": null}, "y": {"field": "E", "type": "quantitative", "scale": {"domain": [-20.538, 10.802], "nice": false, "zero": false}, "axis": null}, "text": {"field": "t"}}
  },
  {
    "data": {"name": "rlabels"}, "transform": [{"filter": "datum.g == 'miller'"}],
    "mark": {"type": "text", "font": "DejaVu Sans", "fontSize": 15, "align": "center", "baseline": "middle", "color": "#231f20"},
    "encoding": {"x": {"field": "k", "type": "quantitative", "scale": {"domain": [-2.9382, 7.0514], "nice": false, "zero": false}, "axis": null}, "y": {"field": "E", "type": "quantitative", "scale": {"domain": [-20.538, 10.802], "nice": false, "zero": false}, "axis": null}, "text": {"field": "t"}}
  }
],
"resolve": {"scale": {"x": "independent", "y": "independent"}}
}
